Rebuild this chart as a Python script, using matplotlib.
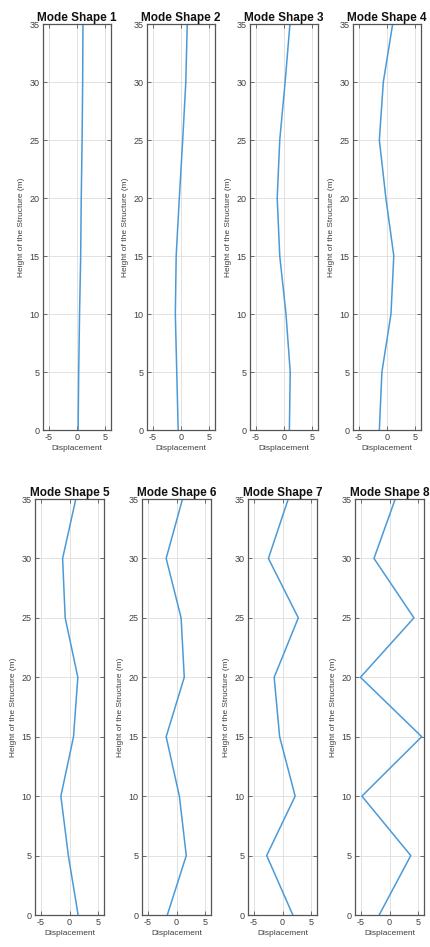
import matplotlib
matplotlib.use("Agg")
import matplotlib.pyplot as plt
import numpy as np

plt.rcParams["axes.unicode_minus"] = False

heights = [0, 5, 10, 15, 20, 25, 30, 35]
mode1 = [0.2, 0.3, 0.45, 0.65, 0.75, 0.9, 1.0, 1.05]
mode2 = [-0.5, -0.75, -1.0, -0.85, -0.3, 0.3, 0.85, 1.1]
mode3 = [0.95, 1.1, 0.35, -0.75, -1.2, -0.75, 0.2, 1.05]
mode4 = [-1.35, -0.9, 0.7, 1.2, -0.2, -1.35, -0.65, 1.0]
mode5 = [1.5, -0.2, -1.5, 0.7, 1.45, -0.75, -1.2, 1.1]
mode6 = [-1.6, 1.7, 0.5, -1.8, 1.35, 0.8, -1.8, 1.05]
mode7 = [1.8, -2.75, 2.2, -0.5, -1.45, 2.75, -2.45, 1.0]
mode8 = [-1.8, 3.7, -4.8, 5.6, -5.05, 4.25, -2.7, 1.0]
modes = [mode1, mode2, mode3, mode4, mode5, mode6, mode7, mode8]
titles = [f"Mode Shape {i}" for i in range(1, 9)]
xticks = [-5, 0, 5]
yticks = [0, 5, 10, 15, 20, 25, 30, 35]

W, H = 430, 947
fig = plt.figure(figsize=(W / 100, H / 100), dpi=100)

top_lefts = [43, 147, 250, 353]
bot_lefts = [35, 142, 248, 355]
rows = [(top_lefts, 24, 430, 68), (bot_lefts, 499, 915, 69)]

txt = "#404040"
line_color = "#4a9ad8"
font = "Liberation Sans"

k = 0
for lefts, top, bottom, width in rows:
    for left in lefts:
        ax = fig.add_axes([left / W, 1 - bottom / H, width / W, (bottom - top) / H])
        ax.plot(modes[k], heights, color=line_color, lw=1.1)
        ax.set_xlim(-6, 6)
        ax.set_ylim(0, 35)
        ax.set_xticks(xticks)
        ax.set_yticks(yticks)
        ax.grid(True, color="#dddddd", lw=0.6)
        ax.set_axisbelow(True)
        ax.tick_params(direction="in", length=3, width=0.6, colors="#555555",
                       labelsize=6.5, labelcolor=txt, top=True, right=True, pad=2.5)
        for lab in ax.get_xticklabels() + ax.get_yticklabels():
            lab.set_fontfamily(font)
        for s in ax.spines.values():
            s.set_color("#555555")
            s.set_linewidth(0.9)
        ax.set_title(titles[k], fontsize=8.5, fontweight="bold", family=font,
                     color="#111111", pad=2)
        ax.set_xlabel("Displacement", fontsize=6, family=font, color=txt, labelpad=2)
        ax.set_ylabel("Height of the Structure (m)", fontsize=6, family=font,
                      color=txt, labelpad=3)
        k += 1

fig.savefig("out.png", dpi=100, facecolor="white")
